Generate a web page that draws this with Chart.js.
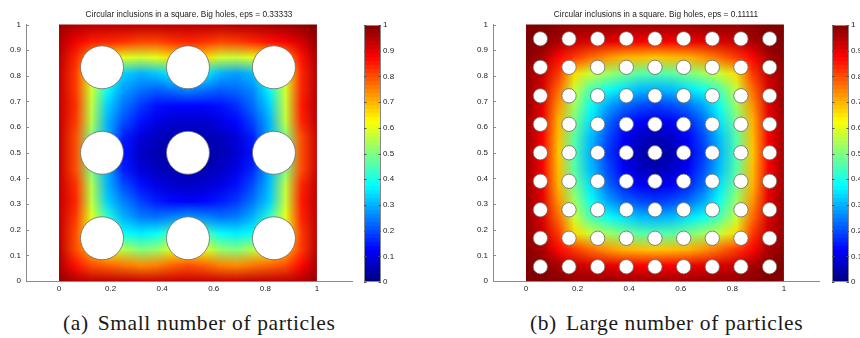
<!DOCTYPE html>
<html>
<head>
<meta charset="utf-8">
<script src="https://cdn.jsdelivr.net/npm/chart.js@4.4.1/dist/chart.umd.min.js"></script>
<style>
html, body { margin: 0; padding: 0; background: #fff; width: 860px; height: 338px; overflow: hidden; }
.box { position: absolute; top: 0; }
.caption { position: absolute; top: 313px; line-height: 20px; font-family: "Liberation Serif", "DejaVu Serif", serif; font-size: 21.5px; letter-spacing: 0.6px; color: #1a1a1a; white-space: nowrap; }
.caption span { margin-left: 9px; }
</style>
</head>
<body>
<div class="box" style="left:0px"><canvas id="map-a" width="360" height="300"></canvas></div>
<div class="box" style="left:330px"><canvas id="bar-a" width="81" height="300"></canvas></div>
<div class="box" style="left:467px"><canvas id="map-b" width="360" height="300"></canvas></div>
<div class="box" style="left:798px"><canvas id="bar-b" width="81" height="300"></canvas></div>
<div class="caption" style="left:63px">(a)<span>Small number of particles</span></div>
<div class="caption" style="left:530px">(b)<span>Large number of particles</span></div>

<script>
// Tick values
const xTickValues = [0, 0.2, 0.4, 0.6, 0.8, 1];
const yTickValues = [0, 0.1, 0.2, 0.3, 0.4, 0.5, 0.6, 0.7, 0.8, 0.9, 1];
const colorbarTickValues = [0, 0.1, 0.2, 0.3, 0.4, 0.5, 0.6, 0.7, 0.8, 0.9, 1];
const xRange = [-0.128, 1.136];

// Titles
const titleA = 'Circular inclusions in a square. Big holes, eps = 0.33333';
const titleB = 'Circular inclusions in a square. Big holes, eps = 0.11111';

// Hole centres (same list for x and y) and radius
const holeCentersA = [1 / 6, 1 / 2, 5 / 6];
const holeRadiusA = 1 / 12;
const holeCentersB = [1 / 18, 3 / 18, 5 / 18, 7 / 18, 9 / 18, 11 / 18, 13 / 18, 15 / 18, 17 / 18];
const holeRadiusB = 1 / 36;

// Field values on a 17 x 17 grid, rows from y = 1 (top) down to y = 0, columns x = 0 .. 1
const mapAValues = [
    [0.97, 0.95, 0.94, 0.94, 0.94, 0.94, 0.94, 0.94, 0.94, 0.94, 0.94, 0.95, 0.95, 0.96, 0.97, 0.98, 1.00],
    [0.95, 0.89, 0.85, 0.84, 0.83, 0.81, 0.81, 0.83, 0.84, 0.83, 0.81, 0.82, 0.84, 0.86, 0.88, 0.92, 0.98],
    [0.94, 0.84, 0.72, 0.66, 0.60, 0.58, 0.60, 0.66, 0.70, 0.66, 0.58, 0.57, 0.60, 0.66, 0.73, 0.86, 0.96],
    [0.93, 0.82, 0.62, 0.46, 0.33, 0.30, 0.32, 0.36, 0.40, 0.36, 0.30, 0.28, 0.31, 0.46, 0.63, 0.84, 0.95],
    [0.93, 0.82, 0.58, 0.38, 0.28, 0.24, 0.22, 0.24, 0.26, 0.24, 0.22, 0.23, 0.26, 0.37, 0.58, 0.84, 0.95],
    [0.93, 0.83, 0.56, 0.33, 0.24, 0.18, 0.14, 0.13, 0.13, 0.13, 0.14, 0.17, 0.23, 0.33, 0.57, 0.85, 0.95],
    [0.93, 0.82, 0.55, 0.30, 0.20, 0.14, 0.10, 0.08, 0.08, 0.08, 0.10, 0.13, 0.19, 0.30, 0.56, 0.84, 0.94],
    [0.93, 0.80, 0.50, 0.30, 0.15, 0.09, 0.06, 0.05, 0.05, 0.05, 0.06, 0.09, 0.15, 0.30, 0.50, 0.80, 0.93],
    [0.93, 0.80, 0.50, 0.28, 0.14, 0.07, 0.05, 0.04, 0.04, 0.04, 0.05, 0.08, 0.14, 0.28, 0.50, 0.80, 0.93],
    [0.93, 0.80, 0.50, 0.30, 0.15, 0.09, 0.06, 0.05, 0.05, 0.05, 0.07, 0.10, 0.16, 0.30, 0.50, 0.80, 0.93],
    [0.93, 0.83, 0.55, 0.30, 0.20, 0.14, 0.10, 0.08, 0.07, 0.08, 0.10, 0.14, 0.20, 0.31, 0.56, 0.84, 0.94],
    [0.93, 0.84, 0.56, 0.33, 0.25, 0.19, 0.15, 0.13, 0.12, 0.13, 0.15, 0.18, 0.24, 0.33, 0.57, 0.85, 0.94],
    [0.93, 0.82, 0.60, 0.42, 0.30, 0.25, 0.24, 0.26, 0.28, 0.26, 0.24, 0.25, 0.30, 0.42, 0.60, 0.84, 0.94],
    [0.93, 0.80, 0.60, 0.50, 0.38, 0.36, 0.38, 0.45, 0.50, 0.45, 0.38, 0.36, 0.38, 0.50, 0.60, 0.82, 0.94],
    [0.94, 0.80, 0.70, 0.62, 0.55, 0.50, 0.52, 0.60, 0.62, 0.60, 0.52, 0.50, 0.55, 0.62, 0.70, 0.82, 0.95],
    [0.95, 0.86, 0.80, 0.78, 0.76, 0.74, 0.75, 0.78, 0.80, 0.78, 0.75, 0.74, 0.76, 0.78, 0.80, 0.87, 0.96],
    [0.98, 0.95, 0.94, 0.94, 0.94, 0.93, 0.93, 0.93, 0.93, 0.93, 0.93, 0.93, 0.94, 0.94, 0.94, 0.95, 0.98]
];

const mapBValues = [
    [1.00, 1.00, 0.99, 0.98, 0.98, 0.98, 0.97, 0.97, 0.97, 0.97, 0.97, 0.98, 0.98, 0.98, 0.99, 1.00, 1.00],
    [1.00, 0.99, 0.96, 0.93, 0.91, 0.90, 0.89, 0.88, 0.88, 0.88, 0.89, 0.90, 0.91, 0.93, 0.96, 0.99, 1.00],
    [0.99, 0.96, 0.87, 0.82, 0.77, 0.73, 0.70, 0.69, 0.68, 0.69, 0.70, 0.73, 0.77, 0.82, 0.87, 0.96, 0.99],
    [0.98, 0.93, 0.82, 0.66, 0.57, 0.53, 0.49, 0.46, 0.45, 0.46, 0.49, 0.53, 0.57, 0.66, 0.82, 0.93, 0.98],
    [0.98, 0.91, 0.77, 0.57, 0.45, 0.39, 0.35, 0.31, 0.30, 0.31, 0.35, 0.39, 0.45, 0.57, 0.77, 0.91, 0.98],
    [0.98, 0.90, 0.73, 0.53, 0.39, 0.29, 0.23, 0.20, 0.18, 0.20, 0.23, 0.29, 0.39, 0.53, 0.73, 0.90, 0.98],
    [0.97, 0.89, 0.70, 0.49, 0.35, 0.23, 0.16, 0.12, 0.10, 0.12, 0.16, 0.23, 0.35, 0.49, 0.70, 0.89, 0.97],
    [0.97, 0.88, 0.69, 0.46, 0.31, 0.20, 0.12, 0.07, 0.05, 0.07, 0.12, 0.20, 0.31, 0.46, 0.69, 0.88, 0.97],
    [0.97, 0.88, 0.68, 0.45, 0.30, 0.18, 0.10, 0.05, 0.03, 0.05, 0.10, 0.18, 0.30, 0.45, 0.68, 0.88, 0.97],
    [0.97, 0.88, 0.69, 0.46, 0.31, 0.20, 0.12, 0.07, 0.05, 0.07, 0.12, 0.20, 0.31, 0.46, 0.69, 0.88, 0.97],
    [0.97, 0.89, 0.70, 0.49, 0.35, 0.23, 0.16, 0.12, 0.10, 0.12, 0.16, 0.23, 0.35, 0.49, 0.70, 0.89, 0.97],
    [0.98, 0.90, 0.73, 0.53, 0.39, 0.29, 0.23, 0.20, 0.18, 0.20, 0.23, 0.29, 0.39, 0.53, 0.73, 0.90, 0.98],
    [0.98, 0.91, 0.77, 0.57, 0.45, 0.39, 0.35, 0.31, 0.30, 0.31, 0.35, 0.39, 0.45, 0.57, 0.77, 0.91, 0.98],
    [0.98, 0.93, 0.82, 0.66, 0.57, 0.53, 0.49, 0.46, 0.45, 0.46, 0.49, 0.53, 0.57, 0.66, 0.82, 0.93, 0.98],
    [0.99, 0.96, 0.87, 0.82, 0.77, 0.73, 0.70, 0.69, 0.68, 0.69, 0.70, 0.73, 0.77, 0.82, 0.87, 0.96, 0.99],
    [1.00, 0.99, 0.96, 0.93, 0.91, 0.90, 0.89, 0.88, 0.88, 0.88, 0.89, 0.90, 0.91, 0.93, 0.96, 0.99, 1.00],
    [1.00, 1.00, 0.99, 0.98, 0.98, 0.98, 0.97, 0.97, 0.97, 0.97, 0.97, 0.98, 0.98, 0.98, 0.99, 1.00, 1.00]
];

const axisColor = '#8a8a8a';
const labelColor = '#222';
Chart.defaults.font.family = '"Liberation Sans", Arial, sans-serif';
Chart.defaults.font.size = 8;

// MATLAB jet colormap
function jet(v) {
    const clamp = t => Math.max(0, Math.min(1, t));
    return [
        Math.round(255 * clamp(1.5 - Math.abs(4 * v - 3))),
        Math.round(255 * clamp(1.5 - Math.abs(4 * v - 2))),
        Math.round(255 * clamp(1.5 - Math.abs(4 * v - 1)))
    ];
}

const fmtTick = v => String(Number(Number(v).toFixed(1)));

// Paint the value grid under the holes, stretched onto the x/y scales
const heatmapPlugin = {
    id: 'heatmap',
    beforeDatasetsDraw(chart, args, opts) {
        const grid = opts.grid;
        if (!grid) return;
        const { ctx, scales: { x, y } } = chart;
        const rows = grid.length, cols = grid[0].length;
        const off = document.createElement('canvas');
        off.width = cols;
        off.height = rows;
        const octx = off.getContext('2d');
        const img = octx.createImageData(cols, rows);
        grid.forEach((row, r) => row.forEach((v, c) => {
            const [R, G, B] = jet(v);
            const k = (r * cols + c) * 4;
            img.data[k] = R; img.data[k + 1] = G; img.data[k + 2] = B; img.data[k + 3] = 255;
        }));
        octx.putImageData(img, 0, 0);

        const hx = 0.5 / (cols - 1), hy = 0.5 / (rows - 1);
        const x0 = x.getPixelForValue(0), x1 = x.getPixelForValue(1);
        const y0 = y.getPixelForValue(0), y1 = y.getPixelForValue(1);
        const left = x.getPixelForValue(-hx), right = x.getPixelForValue(1 + hx);
        const top = y.getPixelForValue(1 + hy), bottom = y.getPixelForValue(-hy);

        ctx.save();
        ctx.beginPath();
        ctx.rect(x0, y1, x1 - x0, y0 - y1);
        ctx.clip();
        ctx.imageSmoothingEnabled = true;
        ctx.drawImage(off, left, top, right - left, bottom - top);
        ctx.restore();
    },
    afterDraw(chart) {
        // short inward ticks on the y axis
        const { ctx, chartArea, scales: { y } } = chart;
        ctx.save();
        ctx.strokeStyle = axisColor;
        ctx.lineWidth = 1;
        yTickValues.forEach(v => {
            const py = Math.round(y.getPixelForValue(v)) + 0.5;
            ctx.beginPath();
            ctx.moveTo(chartArea.left, py);
            ctx.lineTo(chartArea.left + 3, py);
            ctx.stroke();
        });
        ctx.restore();
    }
};

// Frame and inward ticks for the colour bar
const colorbarFramePlugin = {
    id: 'colorbarFrame',
    afterDatasetsDraw(chart) {
        const { ctx, chartArea: a, scales: { y } } = chart;
        ctx.save();
        ctx.strokeStyle = axisColor;
        ctx.lineWidth = 1;
        ctx.strokeRect(Math.round(a.left) + 0.5, Math.round(a.top) + 0.5, Math.round(a.right - a.left) - 1, Math.round(a.bottom - a.top) - 1);
        ctx.strokeStyle = '#555';
        colorbarTickValues.forEach(v => {
            const py = Math.round(y.getPixelForValue(v)) + 0.5;
            ctx.beginPath();
            ctx.moveTo(a.left, py); ctx.lineTo(a.left + 2.5, py);
            ctx.moveTo(a.right, py); ctx.lineTo(a.right - 2.5, py);
            ctx.stroke();
        });
        ctx.restore();
    }
};

function jetGradient(chart) {
    const a = chart.chartArea;
    if (!a) return '#800000';
    const g = chart.ctx.createLinearGradient(0, a.bottom, 0, a.top);
    const n = 64;
    for (let k = 0; k < n; k++) {
        const [R, G, B] = jet((k + 0.5) / n);
        const c = `rgb(${R},${G},${B})`;
        g.addColorStop(k / n, c);
        g.addColorStop((k + 1) / n, c);
    }
    return g;
}

function makeMap(canvasId, title, grid, holeCenters, holeRadius) {
    const holes = [];
    holeCenters.forEach(hy => holeCenters.forEach(hx => holes.push({ x: hx, y: hy })));
    const holePx = ctx => {
        const s = ctx.chart.scales.x;
        return Math.abs(s.getPixelForValue(holeRadius) - s.getPixelForValue(0));
    };
    return new Chart(document.getElementById(canvasId), {
        type: 'scatter',
        data: {
            datasets: [{
                data: holes,
                backgroundColor: '#ffffff',
                borderColor: '#6a6a6a',
                borderWidth: 0.8,
                pointRadius: holePx,
                pointHoverRadius: holePx
            }]
        },
        options: {
            responsive: false,
            animation: false,
            events: [],
            layout: { padding: { right: 8 } },
            plugins: {
                legend: { display: false },
                tooltip: { enabled: false },
                title: {
                    display: true,
                    text: title,
                    fullSize: false,
                    color: labelColor,
                    font: { size: 8.3, weight: 'normal' },
                    padding: { top: 10, bottom: 4.6 }
                },
                heatmap: { grid }
            },
            scales: {
                x: {
                    type: 'linear',
                    min: xRange[0],
                    max: xRange[1],
                    afterBuildTicks: s => { s.ticks = xTickValues.map(v => ({ value: v })); },
                    afterFit: s => { s.height = 19; },
                    grid: { drawOnChartArea: false, drawTicks: false },
                    border: { color: axisColor, width: 1 },
                    ticks: { padding: 3, color: labelColor, maxRotation: 0, autoSkip: false, callback: fmtTick }
                },
                y: {
                    type: 'linear',
                    min: 0,
                    max: 1,
                    afterBuildTicks: s => { s.ticks = yTickValues.map(v => ({ value: v })); },
                    afterFit: s => { s.width = 26; },
                    grid: { drawOnChartArea: false, drawTicks: false },
                    border: { color: axisColor, width: 1 },
                    ticks: { padding: 5, color: labelColor, autoSkip: false, callback: fmtTick }
                }
            }
        },
        plugins: [heatmapPlugin]
    });
}

function makeColorbar(canvasId) {
    return new Chart(document.getElementById(canvasId), {
        type: 'bar',
        data: {
            labels: [''],
            datasets: [{
                data: [colorbarTickValues[colorbarTickValues.length - 1]],
                backgroundColor: ctx => jetGradient(ctx.chart),
                borderWidth: 0,
                barPercentage: 1,
                categoryPercentage: 1
            }]
        },
        options: {
            responsive: false,
            animation: false,
            events: [],
            layout: { padding: { left: 34, top: 25, bottom: 18, right: 0 } },
            plugins: { legend: { display: false }, tooltip: { enabled: false } },
            scales: {
                x: { display: false },
                y: {
                    position: 'right',
                    min: 0,
                    max: 1,
                    afterBuildTicks: s => { s.ticks = colorbarTickValues.map(v => ({ value: v })); },
                    afterFit: s => { s.width = 30; },
                    grid: { drawOnChartArea: false, drawTicks: false },
                    border: { display: false },
                    ticks: { padding: 2, color: labelColor, autoSkip: false, callback: fmtTick }
                }
            }
        },
        plugins: [colorbarFramePlugin]
    });
}

makeMap('map-a', titleA, mapAValues, holeCentersA, holeRadiusA);
makeColorbar('bar-a');
makeMap('map-b', titleB, mapBValues, holeCentersB, holeRadiusB);
makeColorbar('bar-b');
</script>
</body>
</html>
